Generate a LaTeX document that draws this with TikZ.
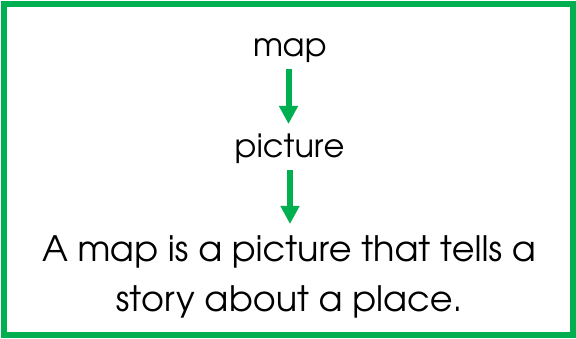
\documentclass[tikz,border=0pt]{standalone}
\usepackage[T1]{fontenc}
\usepackage{avant}
\renewcommand{\familydefault}{\sfdefault}
\usetikzlibrary{arrows.meta}
\definecolor{bordergreen}{HTML}{00B050}
\begin{document}
\begin{tikzpicture}[x=1pt,y=-1pt,
  word/.style={font=\fontsize{32}{40}\selectfont, text=black, inner sep=0pt, anchor=base},
  defline/.style={font=\fontsize{35}{51}\selectfont, text=black, inner sep=0pt, anchor=base, align=center},
  flow/.style={draw=bordergreen, line width=6pt, -{Triangle[width=18pt,length=18pt]}}]
\useasboundingbox (0,0) rectangle (576,339);
\draw[bordergreen, line width=6pt] (4,4) rectangle (573,335);
\node[word] (map) at (290,57) {map};
\node[word] (pic) at (289.5,158) {picture};
\node[defline] (def) at (289,312) {A map is a picture that tells a\\story about a place.};
\coordinate (a1s) at (288.5,69);
\coordinate (a1e) at (288.5,124);
\coordinate (a2s) at (290,170);
\coordinate (a2e) at (290,224);
\draw[flow] (a1s) -- (a1e);
\draw[flow] (a2s) -- (a2e);
\end{tikzpicture}
\end{document}
